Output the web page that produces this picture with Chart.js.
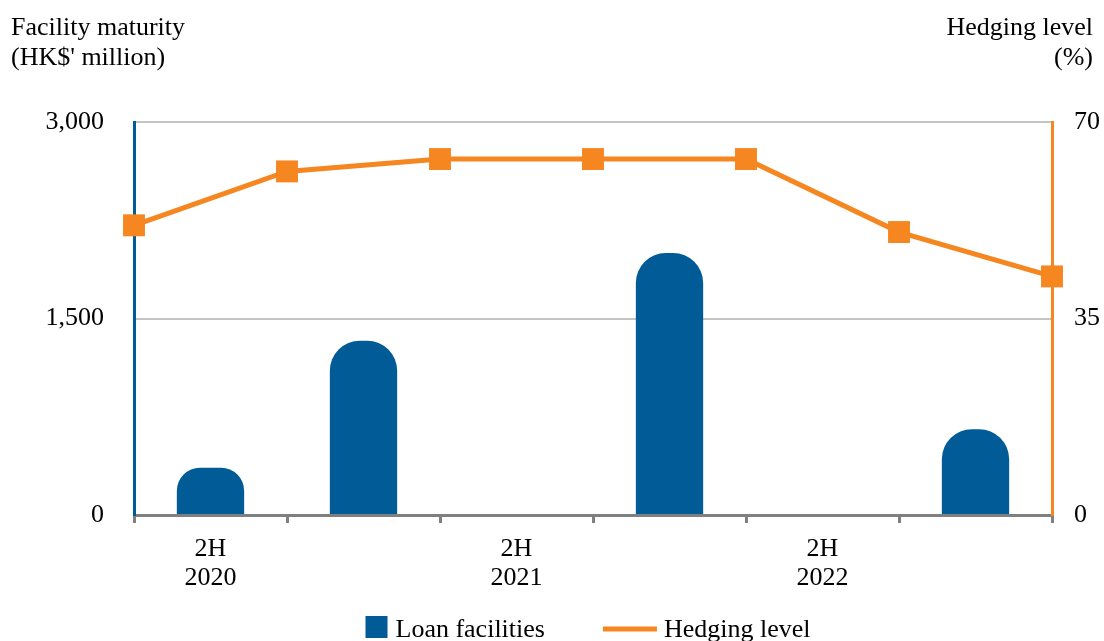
<!DOCTYPE html>
<html>
<head>
<meta charset="utf-8">
<script src="https://cdn.jsdelivr.net/npm/chart.js@4.4.1/dist/chart.umd.min.js"></script>
<style>
  html, body { margin: 0; padding: 0; background: #fff; }
  #wrap { width: 1104px; height: 641px; position: relative; }
</style>
</head>
<body>
<div id="wrap"><canvas id="c"></canvas></div>
<script>
// half-year periods (labels only on the 2H periods)
const categories = [['2H', '2020'], '', ['2H', '2021'], '', ['2H', '2022'], ''];
const loanFacilities = [360, 1330, 0, 2000, 0, 655];   // HK$' million

// hedging level is plotted at period boundaries
const hedgeTicks = ['Jul 2020', 'Jan 2021', 'Jul 2021', 'Jan 2022', 'Jul 2022', 'Jan 2023', 'Jul 2023'];
const hedgingLevel = [51.6, 61.2, 63.4, 63.4, 63.4, 50.4, 42.5]; // %

const leftTicks = [0, 1500, 3000];
const rightTicks = [0, 35, 70];

const BLUE = '#005b96';
const ORANGE = '#f58620';
const FONT = "'Liberation Serif', 'Times New Roman', serif";

const extras = {
  id: 'extras',
  afterDraw(chart) {
    const ctx = chart.ctx;
    const area = chart.chartArea;
    ctx.save();
    ctx.fillStyle = '#000';
    ctx.font = '26px ' + FONT;
    ctx.textBaseline = 'alphabetic';
    // axis titles
    ctx.textAlign = 'left';
    ctx.fillText('Facility maturity', 11, 35);
    ctx.fillText("(HK$' million)", 11, 65);
    ctx.textAlign = 'right';
    ctx.fillText('Hedging level', 1093, 35);
    ctx.fillText('(%)', 1093, 65);

    // legend
    const ds = chart.data.datasets;
    const w1 = ctx.measureText(ds[1].label).width;
    const w2 = ctx.measureText(ds[0].label).width;
    const total = 22 + 8 + w1 + 58 + 54 + 7 + w2;
    let x = (area.left + area.right) / 2 - total / 2 - 5;
    const cy = 627;
    ctx.fillStyle = ds[1].backgroundColor;
    ctx.fillRect(x, cy - 11, 22, 22);
    x += 30;
    ctx.fillStyle = '#000';
    ctx.textAlign = 'left';
    ctx.fillText(ds[1].label, x, cy + 10);
    x += w1 + 58;
    ctx.strokeStyle = ds[0].borderColor;
    ctx.lineWidth = 5;
    ctx.beginPath();
    ctx.moveTo(x, cy + 2);
    ctx.lineTo(x + 54, cy + 2);
    ctx.stroke();
    x += 61;
    ctx.fillText(ds[0].label, x, cy + 10);
    ctx.restore();
  }
};

new Chart(document.getElementById('c'), {
  type: 'bar',
  data: {
    labels: categories,
    datasets: [
      {
        type: 'line',
        label: 'Hedging level',
        data: hedgingLevel,
        xAxisID: 'x2',
        yAxisID: 'y1',
        borderColor: ORANGE,
        backgroundColor: ORANGE,
        borderWidth: 5,
        pointStyle: 'rect',
        pointRadius: 15.5,
        pointBorderWidth: 0,
        pointBackgroundColor: ORANGE,
        tension: 0,
        clip: false,
        grouped: false,
        order: 0
      },
      {
        type: 'bar',
        label: 'Loan facilities',
        data: loanFacilities,
        xAxisID: 'x',
        yAxisID: 'y',
        backgroundColor: BLUE,
        borderWidth: 0,
        borderSkipped: 'bottom',
        borderRadius: { topLeft: 30, topRight: 30, bottomLeft: 0, bottomRight: 0 },
        categoryPercentage: 1,
        barPercentage: 0.44,
        grouped: false,
        order: 1
      }
    ]
  },
  options: {
    responsive: true,
    maintainAspectRatio: false,
    animation: false,
    layout: { padding: { top: 122, left: 0, right: 0, bottom: 0 } },
    plugins: {
      legend: { display: false },
      tooltip: { enabled: false }
    },
    scales: {
      x: {
        type: 'category',
        position: 'bottom',
        offset: true,
        grid: {
          offset: true,
          drawOnChartArea: false,
          drawTicks: true,
          tickLength: 8,
          color: '#808080',
          lineWidth: 3
        },
        border: { display: true, color: '#808080', width: 3 },
        ticks: {
          color: '#000',
          font: { family: FONT, size: 26, lineHeight: 1.1 },
          padding: 12,
          maxRotation: 0,
          autoSkip: false
        },
        afterFit: s => { s.height = 126; }
      },
      x2: {
        type: 'category',
        labels: hedgeTicks,
        offset: false,
        display: false
      },
      y: {
        position: 'left',
        min: 0,
        max: 3000,
        afterBuildTicks: s => { s.ticks = leftTicks.map(v => ({ value: v })); },
        grid: { color: '#c4c4c4', lineWidth: 2, drawTicks: false },
        border: { color: BLUE, width: 3 },
        ticks: {
          color: '#000',
          font: { family: FONT, size: 26 },
          padding: 30,
          callback: v => v.toLocaleString('en-US')
        },
        afterFit: s => { s.width = 134; }
      },
      y1: {
        position: 'right',
        min: 0,
        max: 70,
        afterBuildTicks: s => { s.ticks = rightTicks.map(v => ({ value: v })); },
        grid: { drawOnChartArea: false, drawTicks: false },
        border: { color: ORANGE, width: 3 },
        ticks: {
          color: '#000',
          font: { family: FONT, size: 26 },
          padding: 22
        },
        afterFit: s => { s.width = 52; }
      }
    }
  },
  plugins: [extras]
});
</script>
</body>
</html>
